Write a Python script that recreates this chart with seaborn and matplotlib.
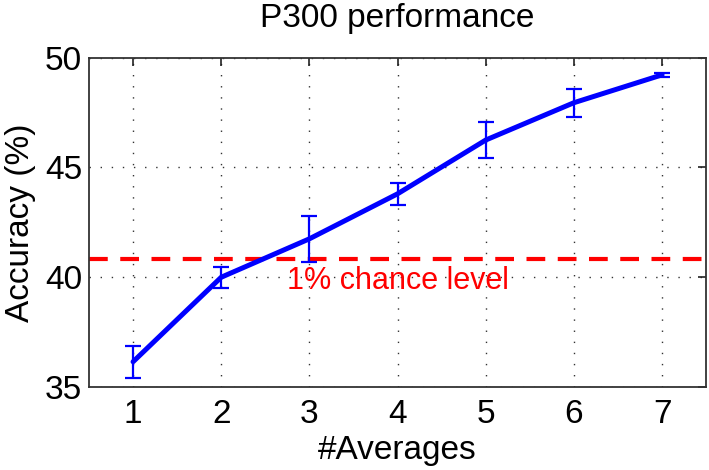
import numpy as np
import pandas as pd
import matplotlib
matplotlib.use("Agg")
import matplotlib.pyplot as plt
import seaborn as sns

# P300 accuracy vs. number of averaged trials
n_averages = [1, 2, 3, 4, 5, 6, 7]
accuracy = [36.15, 40.0, 41.75, 43.8, 46.25, 47.95, 49.22]
accuracy_err = [0.72, 0.47, 1.05, 0.5, 0.82, 0.63, 0.1]
chance_level = 40.82

sns.set_theme(style="white")
plt.rcParams["font.family"] = ["Liberation Sans", "DejaVu Sans"]
plt.rcParams["text.color"] = "black"
plt.rcParams["axes.labelcolor"] = "black"

df = pd.DataFrame({"n": n_averages, "acc": accuracy, "err": accuracy_err})

fig = plt.figure(figsize=(7.09, 4.70), dpi=100)
ax = fig.add_axes([0.1255, 0.1766, 0.8705, 0.7006])

ax.errorbar(df["n"], df["acc"], yerr=df["err"], fmt="none", ecolor="#0000ff",
            elinewidth=1.6, capsize=6, capthick=1.6, zorder=3)
sns.lineplot(data=df, x="n", y="acc", color="#0000ff", linewidth=3.6, ax=ax, zorder=4)

ax.axhline(chance_level, color="#ff0000", linestyle=(0, (4.5, 3)), linewidth=3, zorder=2)
ax.text(4, 39.85, "1% chance level", color="#ff0000", fontsize=22,
        ha="center", va="center", zorder=5)

ax.set_xlim(0.5, 7.5)
ax.set_ylim(35, 50)
ax.set_xticks(n_averages)
ax.set_yticks([35, 40, 45, 50])
ax.grid(True, color="#333333", linestyle=(0, (1, 7)), linewidth=1)

ax.tick_params(direction="in", length=6, width=1.2, colors="#222222",
               labelsize=24, labelcolor="black", top=True, right=True)
ax.tick_params(axis="x", pad=9)
ax.tick_params(axis="y", pad=5)
for s in ax.spines.values():
    s.set_color("#333333")
    s.set_linewidth(1.3)

ax.set_title("P300 performance", fontsize=24, pad=22, color="black")
ax.set_xlabel("#Averages", fontsize=24, labelpad=3)
ax.set_ylabel("Accuracy (%)", fontsize=24, labelpad=6)

fig.savefig("out.png", dpi=100)
